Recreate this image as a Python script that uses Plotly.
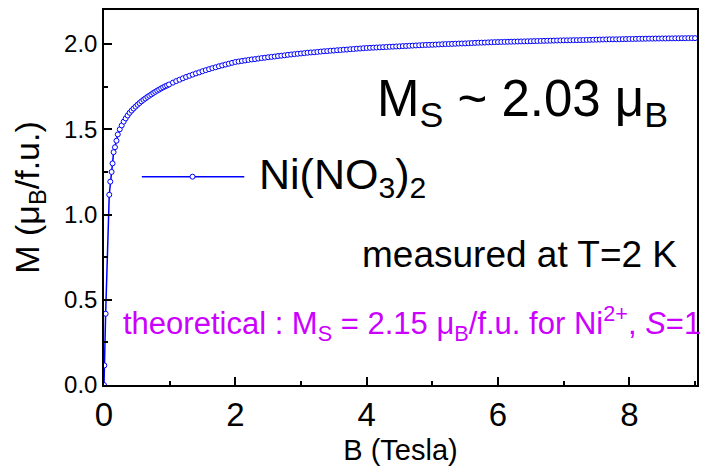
import plotly.graph_objects as go

# Magnetization of Ni(NO3)2 measured at T = 2 K
field_T = [
    0.0, 0.005, 0.025, 0.08, 0.096, 0.116, 0.13, 0.146, 0.167, 0.19, 0.21, 0.24,
    0.27, 0.30, 0.33, 0.36, 0.39, 0.42, 0.45, 0.48, 0.51, 0.54, 0.57, 0.60, 0.63,
    0.66, 0.69, 0.72, 0.75, 0.78, 0.81, 0.84, 0.87, 0.90, 0.93, 0.96, 0.99,
    1.05, 1.10, 1.15, 1.20, 1.25, 1.30, 1.35, 1.40, 1.45, 1.50, 1.55, 1.60, 1.65,
    1.70, 1.75, 1.80, 1.85, 1.90, 1.95, 2.00, 2.05, 2.10, 2.15, 2.20, 2.25, 2.30,
    2.35, 2.40, 2.45, 2.50, 2.55, 2.60, 2.65, 2.70, 2.75, 2.80, 2.85, 2.90, 2.95,
    3.00, 3.05, 3.10, 3.15, 3.20, 3.25, 3.30, 3.35, 3.40, 3.45, 3.50, 3.55, 3.60,
    3.65, 3.70, 3.75, 3.80, 3.85, 3.90, 3.95, 4.00,
    4.05, 4.10, 4.15, 4.20, 4.25, 4.30, 4.35, 4.40, 4.45, 4.50, 4.55, 4.60, 4.65,
    4.70, 4.75, 4.80, 4.85, 4.90, 4.95, 5.00,
    5.05, 5.10, 5.15, 5.20, 5.25, 5.30, 5.35, 5.40, 5.45, 5.50, 5.55, 5.60, 5.65,
    5.70, 5.75, 5.80, 5.85, 5.90, 5.95, 6.00,
    6.05, 6.10, 6.15, 6.20, 6.25, 6.30, 6.35, 6.40, 6.45, 6.50, 6.55, 6.60, 6.65,
    6.70, 6.75, 6.80, 6.85, 6.90, 6.95, 7.00,
    7.05, 7.10, 7.15, 7.20, 7.25, 7.30, 7.35, 7.40, 7.45, 7.50, 7.55, 7.60, 7.65,
    7.70, 7.75, 7.80, 7.85, 7.90, 7.95, 8.00,
    8.05, 8.10, 8.15, 8.20, 8.25, 8.30, 8.35, 8.40, 8.45, 8.50, 8.55, 8.60, 8.65,
    8.70, 8.75, 8.80, 8.85, 8.90, 8.95, 9.00,
]
moment_muB = [
    0.0, 0.115, 0.418, 1.116, 1.193, 1.25, 1.30, 1.366, 1.395, 1.433, 1.47, 1.50,
    1.523, 1.545, 1.564, 1.581, 1.597, 1.610, 1.622, 1.633, 1.644, 1.654, 1.664,
    1.673, 1.681, 1.690, 1.697, 1.705, 1.713, 1.720, 1.727, 1.733, 1.740, 1.746,
    1.752, 1.757, 1.763,
    1.774, 1.783, 1.791, 1.799, 1.807, 1.814, 1.821, 1.828, 1.834, 1.841, 1.847,
    1.853, 1.859, 1.864, 1.870, 1.875, 1.880, 1.885, 1.890, 1.895, 1.898, 1.901,
    1.904, 1.907, 1.910, 1.912, 1.915, 1.918, 1.920, 1.923, 1.925, 1.927, 1.930,
    1.932, 1.934, 1.937, 1.939, 1.941, 1.943,
    1.945, 1.947, 1.949, 1.951, 1.952, 1.954, 1.956, 1.958, 1.959, 1.961, 1.962,
    1.964, 1.965, 1.967, 1.968, 1.970, 1.971, 1.973, 1.974, 1.976, 1.977,
    1.978, 1.979, 1.980, 1.981, 1.982, 1.983, 1.984, 1.985, 1.986, 1.987, 1.988,
    1.989, 1.990, 1.991, 1.992, 1.993, 1.994, 1.995, 1.9955, 1.996,
    1.997, 1.998, 1.999, 2.000, 2.0005, 2.001, 2.002, 2.003, 2.0035, 2.004, 2.005,
    2.006, 2.007, 2.008, 2.0085, 2.009, 2.010, 2.011, 2.0115, 2.012,
    2.0125, 2.013, 2.0135, 2.014, 2.0145, 2.015, 2.0155, 2.016, 2.0165, 2.017,
    2.0175, 2.018, 2.0185, 2.019, 2.0195, 2.020, 2.0205, 2.021, 2.0215, 2.022,
    2.022, 2.0225, 2.023, 2.023, 2.0235, 2.024, 2.0245, 2.025, 2.0255, 2.026,
    2.0265, 2.027, 2.0275, 2.028, 2.028, 2.028, 2.0285, 2.029, 2.0295, 2.030,
    2.030, 2.0305, 2.031, 2.031, 2.0315, 2.032, 2.032, 2.0325, 2.0325, 2.033,
    2.033, 2.0335, 2.0335, 2.034, 2.034, 2.0345, 2.0345, 2.035, 2.035, 2.035,
]
assert len(field_T) == len(moment_muB)

x_ticks = [0, 2, 4, 6, 8]
y_ticks = [0.0, 0.5, 1.0, 1.5, 2.0]
series_name = "Ni(NO<sub>3</sub>)<sub>2</sub>"

BLUE = "#0000FF"
PURPLE = "#CC00FF"
FONT = "Arial, Liberation Sans, sans-serif"

fig = go.Figure()
fig.add_trace(go.Scatter(
    x=field_T, y=moment_muB, mode="lines+markers", name=series_name,
    line=dict(color=BLUE, width=1.5),
    marker=dict(symbol="circle", size=5, color="white",
                line=dict(color=BLUE, width=1)),
    showlegend=False,
))

# hand-drawn legend entry: long line sample with a single open marker
leg_y = 1.222
fig.add_shape(type="line", xref="x", yref="y", x0=0.576, x1=2.136,
              y0=leg_y, y1=leg_y, line=dict(color=BLUE, width=1.5))
fig.add_shape(type="circle", xref="x", yref="y", xsizemode="pixel",
              ysizemode="pixel", xanchor=1.348, yanchor=leg_y,
              x0=-2.5, x1=2.5, y0=-2.5, y1=2.5,
              fillcolor="white", line=dict(color=BLUE, width=1))

annotations = [
    dict(x=2.33, y=leg_y, text=series_name, font=dict(size=43, color="black")),
    dict(x=4.12, y=1.66, text="M<sub>S</sub> ~ 2.03 \u03bc<sub>B</sub>",
         font=dict(size=51, color="black")),
    dict(x=3.9, y=0.765, text="measured at T=2 K",
         font=dict(size=37, color="black")),
    dict(x=0.26, y=0.36,
         text="theoretical : M<sub>S</sub> = 2.15 \u03bc<sub>B</sub>/f.u. for "
              "Ni<sup>2+</sup>, <i>S</i>=1",
         font=dict(size=31, color=PURPLE)),
]
for a in annotations:
    a.update(xref="x", yref="y", xanchor="left", yanchor="middle",
             showarrow=False)
    a["font"]["family"] = FONT
    fig.add_annotation(**a)

axis_common = dict(
    showline=True, linecolor="black", linewidth=1.5, mirror=True,
    ticks="inside", ticklen=8, tickwidth=1.5, tickcolor="black",
    showgrid=False, zeroline=False,
)

fig.update_xaxes(
    range=[0, 9.03], tickvals=x_ticks, ticktext=[str(v) for v in x_ticks],
    tickfont=dict(size=33, family=FONT, color="black"),
    minor=dict(dtick=1, tick0=0, ticks="inside", ticklen=4, tickwidth=1.5,
               tickcolor="black"),
    title=dict(text="B (Tesla)", font=dict(size=29, family=FONT, color="black"),
               standoff=7),
    **axis_common,
)
fig.update_yaxes(
    range=[0, 2.2], tickvals=y_ticks, ticktext=[f"{v:.1f}" for v in y_ticks],
    tickfont=dict(size=24, family=FONT, color="black"),
    minor=dict(dtick=0.25, tick0=0, ticks="inside", ticklen=4, tickwidth=1.5,
               tickcolor="black"),
    title=dict(text="M (\u03bc<sub>B</sub>/f.u.)",
               font=dict(size=34, family=FONT, color="black"), standoff=14),
    **axis_common,
)

fig.update_layout(
    width=704, height=466,
    margin=dict(l=104, r=5, t=10, b=74),
    paper_bgcolor="white", plot_bgcolor="white",
    font=dict(family=FONT, color="black"),
)

fig.write_html("out.html")
